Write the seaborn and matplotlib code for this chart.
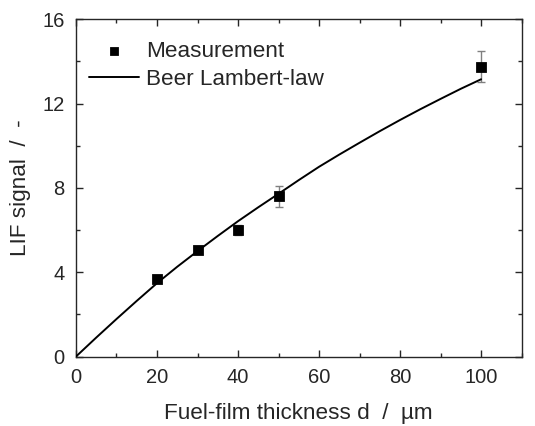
import numpy as np
import pandas as pd
import matplotlib
matplotlib.use("Agg")
import matplotlib.pyplot as plt
import seaborn as sns
from matplotlib.ticker import MultipleLocator

# measured LIF signal vs film thickness
thickness = [20, 30, 40, 50, 100]
signal = [3.66, 5.05, 6.0, 7.61, 13.75]
signal_err = [0.12, 0.15, 0.25, 0.5, 0.75]

# Beer-Lambert curve
curve_d = [0, 5, 10, 15, 20, 25, 30, 35, 40, 45, 50, 55, 60, 65, 70, 75, 80, 85, 90, 95, 100]
curve_s = [0.0, 0.9, 1.78, 2.64, 3.48, 4.26, 5.0, 5.72, 6.42, 7.08, 7.72, 8.37, 9.0,
           9.58, 10.14, 10.69, 11.22, 11.73, 12.22, 12.7, 13.15]

sns.set_style("ticks")
plt.rcParams["font.family"] = ["Liberation Sans", "DejaVu Sans"]

fig, ax = plt.subplots(figsize=(5.35, 4.26), dpi=100)
fig.subplots_adjust(left=0.142, right=0.975, top=0.955, bottom=0.163)

df_curve = pd.DataFrame({"d": curve_d, "s": curve_s})
df_meas = pd.DataFrame({"d": thickness, "s": signal})

ax.errorbar(thickness, signal, yerr=signal_err, fmt="none", ecolor="#808080",
            elinewidth=1, capsize=3, capthick=1, zorder=2)
sns.lineplot(data=df_curve, x="d", y="s", color="black", linewidth=1.4,
             ax=ax, label="Beer Lambert-law", zorder=3)
sns.scatterplot(data=df_meas, x="d", y="s", marker="s", s=52, color="black",
                edgecolor="black", ax=ax, label="Measurement", zorder=4)

ax.set_xlim(0, 110)
ax.set_ylim(0, 16)
ax.xaxis.set_major_locator(MultipleLocator(20))
ax.xaxis.set_minor_locator(MultipleLocator(10))
ax.yaxis.set_major_locator(MultipleLocator(4))
ax.yaxis.set_minor_locator(MultipleLocator(2))
ax.tick_params(which="both", direction="in", top=True, right=True,
               labeltop=False, labelright=False, width=1, labelsize=14.5, pad=8)
ax.tick_params(which="major", length=5)
ax.tick_params(which="minor", length=3)
for sp in ax.spines.values():
    sp.set_linewidth(1)

ax.set_xlabel("Fuel-film thickness d  /  µm", fontsize=16.2, labelpad=12)
ax.set_ylabel("LIF signal  /  -", fontsize=16.2, labelpad=8)

handles, labels = ax.get_legend_handles_labels()
order = [labels.index("Measurement"), labels.index("Beer Lambert-law")]
ax.legend([handles[i] for i in order], [labels[i] for i in order],
          loc="upper left", frameon=False, fontsize=16.2, markerscale=0.8,
          bbox_to_anchor=(0.0, 0.975), handlelength=2.2, handletextpad=0.3,
          labelspacing=0.3, borderaxespad=0.2)

plt.savefig("out.png", dpi=100)
plt.close()
